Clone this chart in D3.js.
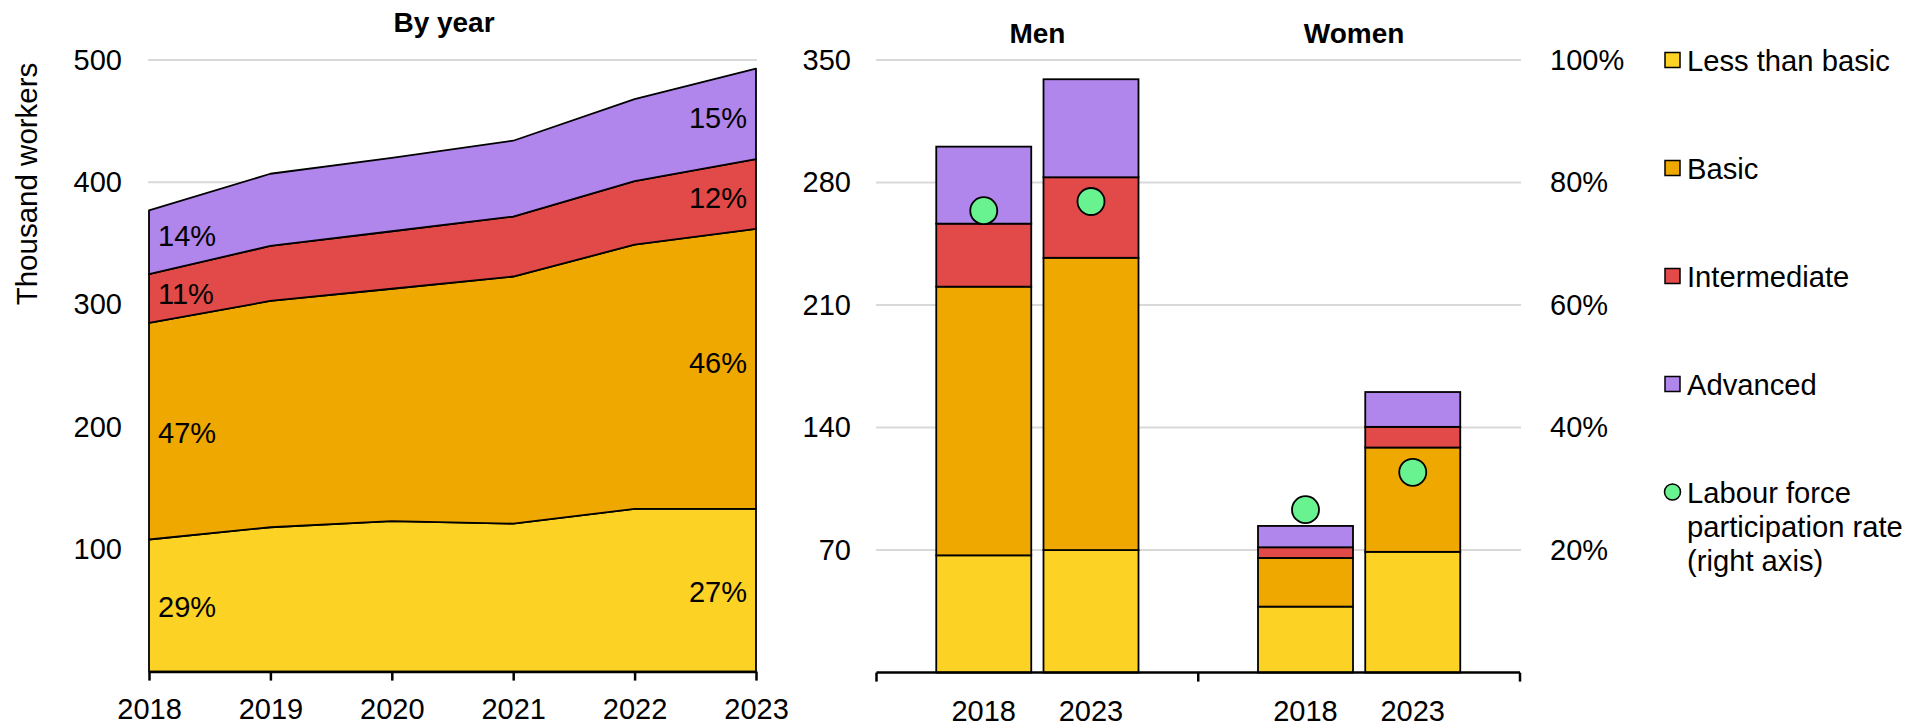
<!DOCTYPE html>
<html>
<head>
<meta charset="utf-8">
<script src="https://cdn.jsdelivr.net/npm/d3@7"></script>
<style>
  html, body { margin: 0; padding: 0; background: #fff; }
  svg text { font-family: "Liberation Sans", Arial, sans-serif; fill: #000; }
</style>
</head>
<body>
<svg id="chart" width="1919" height="728"></svg>
<script>
// Workers by education level (thousands)
const years = [2018, 2019, 2020, 2021, 2022, 2023];
const levels = ["Less than basic", "Basic", "Intermediate", "Advanced"];
const lessThanBasic = [108, 118, 123, 121, 133, 133];
const basic = [177, 185, 190, 202, 216, 229];
const intermediate = [40, 45, 47, 49, 52, 57];
const advanced = [52, 59, 60, 62, 67, 74];

// By sex, first and last year
const sexes = ["Men", "Women"];
const sexYears = ["2018", "2023"];
const menLess = [67, 70];
const menBasic = [153.5, 167];
const menInter = [36, 46];
const menAdv = [44, 56];
const womenLess = [37.7, 69];
const womenBasic = [27.8, 59.6];
const womenInter = [6.1, 11.8];
const womenAdv = [12.2, 19.9];
const menParticipation = [0.754, 0.769];
const womenParticipation = [0.266, 0.327];

const leftTicks = [100, 200, 300, 400, 500];
const rightTicks = [70, 140, 210, 280, 350];
const rateTicks = [0.2, 0.4, 0.6, 0.8, 1.0];

const colors = {
  "Less than basic": "#FCD225",
  "Basic": "#EFA800",
  "Intermediate": "#E14A48",
  "Advanced": "#B085EC"
};
const dotColor = "#68F290";
const gridColor = "#D9D9D9";
const FS = 29;
const FS_TITLE = 28;

// small vertical nudges (px) for the share labels: [start, end] per level
const labelNudge = {
  "Less than basic": [1, 1],
  "Basic": [1, -6],
  "Intermediate": [-5, 4],
  "Advanced": [-7, 4]
};

const svg = d3.select("#chart");

// ---------- Left panel: stacked area by year ----------
const yearRows = years.map((y, i) => ({
  year: y,
  "Less than basic": lessThanBasic[i],
  "Basic": basic[i],
  "Intermediate": intermediate[i],
  "Advanced": advanced[i]
}));

const xL = d3.scaleLinear().domain([2018, 2023]).range([149, 756]);
const yL = d3.scaleLinear().domain([0, 500]).range([671.6, 60]);

const gL = svg.append("g");

gL.selectAll("line.grid").data(leftTicks).join("line")
  .attr("x1", 148).attr("x2", 757)
  .attr("y1", d => yL(d)).attr("y2", d => yL(d))
  .attr("stroke", gridColor).attr("stroke-width", 2);

const stack = d3.stack().keys(levels);
const series = stack(yearRows);

const area = d3.area()
  .x(d => xL(d.data.year))
  .y0(d => yL(d[0]))
  .y1(d => yL(d[1]));

gL.selectAll("path.layer").data(series).join("path")
  .attr("d", area)
  .attr("fill", d => colors[d.key])
  .attr("stroke", "#000").attr("stroke-width", 1.8)
  .attr("stroke-linejoin", "round");

// share labels at both ends
const pct = v => Math.round(v * 100) + "%";
series.forEach(s => {
  [0, years.length - 1].forEach((i, j) => {
    const d = s[i];
    const total = levels.reduce((a, k) => a + d.data[k], 0);
    const first = i === 0;
    gL.append("text")
      .attr("x", first ? xL(years[i]) + 9 : xL(years[i]) - 9)
      .attr("y", yL((d[0] + d[1]) / 2) + labelNudge[s.key][j])
      .attr("dy", "0.36em")
      .attr("text-anchor", first ? "start" : "end")
      .attr("font-size", FS)
      .text(pct(d.data[s.key] / total));
  });
});

// y axis labels
const axL = gL.append("g").attr("transform", "translate(149,0)")
  .call(d3.axisLeft(yL).tickValues(leftTicks).tickSize(0).tickPadding(27));
axL.select(".domain").remove();
axL.selectAll("text").attr("font-size", FS).attr("font-family", null);

// x axis
const axXL = gL.append("g").attr("transform", `translate(0,${yL(0)})`)
  .call(d3.axisBottom(xL).tickValues(years).tickFormat(d3.format("d"))
    .tickSize(9).tickSizeOuter(0).tickPadding(18));
axXL.select(".domain").attr("stroke", "#000").attr("stroke-width", 2.5);
axXL.selectAll(".tick line").attr("stroke", "#000").attr("stroke-width", 2.5);
axXL.selectAll("text").attr("font-size", FS).attr("font-family", null);

svg.append("text")
  .attr("transform", "translate(36.5,184) rotate(-90)")
  .attr("text-anchor", "middle")
  .attr("font-size", 29.5)
  .text("Thousand workers");

svg.append("text")
  .attr("x", 444).attr("y", 32)
  .attr("text-anchor", "middle")
  .attr("font-size", FS_TITLE).attr("font-weight", "bold")
  .text("By year");

// ---------- Right panel: stacked bars by sex ----------
const barRows = [];
sexes.forEach(sex => {
  const src = sex === "Men"
    ? [menLess, menBasic, menInter, menAdv, menParticipation]
    : [womenLess, womenBasic, womenInter, womenAdv, womenParticipation];
  sexYears.forEach((yr, i) => {
    barRows.push({
      sex, yr,
      "Less than basic": src[0][i],
      "Basic": src[1][i],
      "Intermediate": src[2][i],
      "Advanced": src[3][i],
      rate: src[4][i]
    });
  });
});

const xG = d3.scaleBand().domain(sexes).range([876.5, 1520]).padding(0);
const xB = d3.scalePoint().domain(sexYears).range([0, xG.bandwidth()]).padding(1);
const barW = 95;
const yR = d3.scaleLinear().domain([0, 350]).range([672.6, 60]);
const yRate = d3.scaleLinear().domain([0, 1]).range([672.6, 60]);
const cx = d => xG(d.sex) + xB(d.yr);

const gR = svg.append("g");

gR.selectAll("line.grid").data(rightTicks).join("line")
  .attr("x1", 876).attr("x2", 1521)
  .attr("y1", d => yR(d)).attr("y2", d => yR(d))
  .attr("stroke", gridColor).attr("stroke-width", 2);

const barSeries = stack(barRows);
gR.selectAll("g.bars").data(barSeries).join("g")
  .attr("fill", d => colors[d.key])
  .selectAll("rect").data(d => d).join("rect")
  .attr("x", d => cx(d.data) - barW / 2)
  .attr("width", barW)
  .attr("y", d => yR(d[1]))
  .attr("height", d => yR(d[0]) - yR(d[1]))
  .attr("stroke", "#000").attr("stroke-width", 1.8);

gR.selectAll("circle.rate").data(barRows).join("circle")
  .attr("cx", d => cx(d))
  .attr("cy", d => yRate(d.rate))
  .attr("r", 13.5)
  .attr("fill", dotColor)
  .attr("stroke", "#000").attr("stroke-width", 1.8);

// left value axis
const axR = gR.append("g").attr("transform", "translate(876,0)")
  .call(d3.axisLeft(yR).tickValues(rightTicks).tickSize(0).tickPadding(25));
axR.select(".domain").remove();
axR.selectAll("text").attr("font-size", FS).attr("font-family", null);

// right rate axis
const axRate = gR.append("g").attr("transform", "translate(1521,0)")
  .call(d3.axisRight(yRate).tickValues(rateTicks).tickFormat(d3.format(".0%"))
    .tickSize(0).tickPadding(29));
axRate.select(".domain").remove();
axRate.selectAll("text").attr("font-size", FS).attr("font-family", null);

// category axis: baseline with group separators
const xBase = yR(0);
gR.append("line")
  .attr("x1", 876.5).attr("x2", 1520)
  .attr("y1", xBase).attr("y2", xBase)
  .attr("stroke", "#000").attr("stroke-width", 2.5);
const sepX = [xG.range()[0], ...sexes.map(s => xG(s) + xG.bandwidth())];
gR.selectAll("line.sep").data(sepX).join("line")
  .attr("x1", d => d).attr("x2", d => d)
  .attr("y1", xBase).attr("y2", xBase + 9)
  .attr("stroke", "#000").attr("stroke-width", 2.5);

gR.selectAll("text.yr").data(barRows).join("text")
  .attr("x", d => cx(d))
  .attr("y", 721)
  .attr("text-anchor", "middle")
  .attr("font-size", FS)
  .text(d => d.yr);

gR.selectAll("text.sex").data(sexes).join("text")
  .attr("x", d => xG(d) + xG.bandwidth() / 2 - (d === "Women" ? 5 : 0))
  .attr("y", 43)
  .attr("text-anchor", "middle")
  .attr("font-size", FS_TITLE).attr("font-weight", "bold")
  .text(d => d);

// ---------- Legend ----------
const legendItems = [
  { label: ["Less than basic"], color: colors["Less than basic"], shape: "rect" },
  { label: ["Basic"], color: colors["Basic"], shape: "rect" },
  { label: ["Intermediate"], color: colors["Intermediate"], shape: "rect" },
  { label: ["Advanced"], color: colors["Advanced"], shape: "rect" },
  { label: ["Labour force", "participation rate", "(right axis)"], color: dotColor, shape: "circle" }
];
const lg = svg.append("g").attr("transform", "translate(1664,60)");
legendItems.forEach((it, i) => {
  const g = lg.append("g").attr("transform", `translate(0,${i * 108})`);
  if (it.shape === "rect") {
    g.append("rect").attr("x", 1).attr("y", -7.5).attr("width", 15).attr("height", 15)
      .attr("fill", it.color).attr("stroke", "#000").attr("stroke-width", 1.5);
  } else {
    g.append("circle").attr("cx", 8.5).attr("cy", 0).attr("r", 8)
      .attr("fill", it.color).attr("stroke", "#000").attr("stroke-width", 1.5);
  }
  it.label.forEach((t, j) => {
    g.append("text")
      .attr("x", 23).attr("y", j * 34)
      .attr("dy", "0.36em")
      .attr("font-size", 29.2)
      .text(t);
  });
});
</script>
</body>
</html>
